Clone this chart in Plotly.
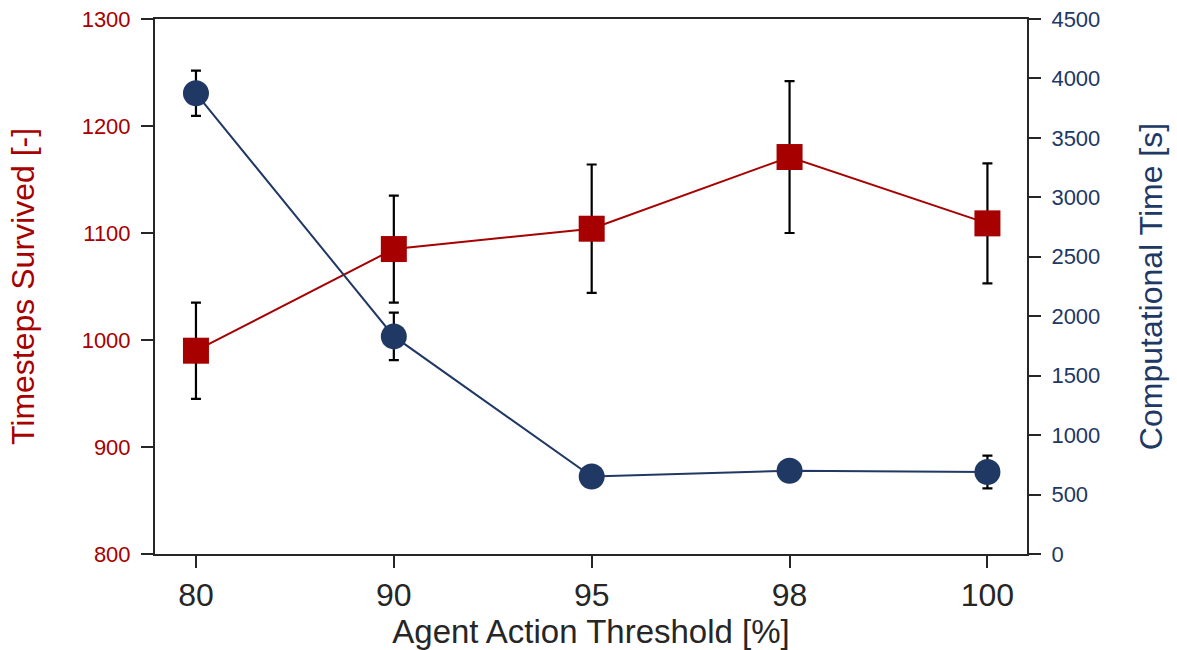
import plotly.graph_objects as go

# Agent action threshold settings (x categories)
thresholds = ["80", "90", "95", "98", "100"]

# Timesteps survived (left axis) with standard deviation
timesteps_mean = [990, 1085, 1104, 1171, 1109]
timesteps_err = [45, 50, 60, 71, 56]

# Computational time in seconds (right axis) with standard deviation
comp_time_mean = [3875, 1830, 652, 700, 690]
comp_time_err = [190, 200, 60, 50, 138]

red = "#a60000"
navy = "#203864"
axis_col = "#262626"
font_family = "Liberation Sans, Arial, sans-serif"

fig = go.Figure()

fig.add_trace(go.Scatter(
    x=thresholds, y=timesteps_mean,
    mode="lines+markers",
    line=dict(color=red, width=2),
    marker=dict(symbol="square", size=26, color=red),
    error_y=dict(type="data", array=timesteps_err, visible=True,
                 color="black", thickness=2.2, width=5),
    name="Timesteps Survived",
    yaxis="y",
))

fig.add_trace(go.Scatter(
    x=thresholds, y=comp_time_mean,
    mode="lines+markers",
    line=dict(color=navy, width=2),
    marker=dict(symbol="circle", size=26, color=navy),
    error_y=dict(type="data", array=comp_time_err, visible=True,
                 color="black", thickness=2.2, width=5),
    name="Computational Time",
    yaxis="y2",
))

fig.update_layout(
    width=1177, height=650,
    margin=dict(l=155, r=150, t=19, b=96),
    paper_bgcolor="white",
    plot_bgcolor="white",
    showlegend=False,
    font=dict(family=font_family),
    xaxis=dict(
        type="category",
        range=[-0.207, 4.2],
        automargin=False,
        showgrid=False, zeroline=False,
        showline=True, linecolor=axis_col, linewidth=2, mirror=True,
        ticks="outside", ticklen=12, tickwidth=1.5, tickcolor=axis_col,
        tickfont=dict(size=32, color="#262626"),
        title=dict(text="Agent Action Threshold [%]",
                   font=dict(size=33, color="#262626"), standoff=10),
    ),
    yaxis=dict(
        range=[800, 1300],
        tickvals=[800, 900, 1000, 1100, 1200, 1300],
        automargin=False,
        showgrid=False, zeroline=False,
        showline=True, linecolor=axis_col, linewidth=2,
        ticks="outside", ticklen=12, tickwidth=1.5, tickcolor=axis_col,
        ticklabelstandoff=6,
        tickfont=dict(size=22, color=red),
        title=dict(text="Timesteps Survived [-]",
                   font=dict(size=32, color=red), standoff=37),
    ),
    yaxis2=dict(
        range=[0, 4500],
        tickvals=list(range(0, 4501, 500)),
        overlaying="y", side="right",
        automargin=False,
        showgrid=False, zeroline=False,
        showline=True, linecolor=axis_col, linewidth=2,
        ticks="outside", ticklen=12, tickwidth=1.5, tickcolor=axis_col,
        ticklabelstandoff=6,
        tickfont=dict(size=22, color=navy),
        title=dict(text="Computational Time [s]",
                   font=dict(size=32, color=navy), standoff=40),
    ),
)

fig.write_html("out.html")
